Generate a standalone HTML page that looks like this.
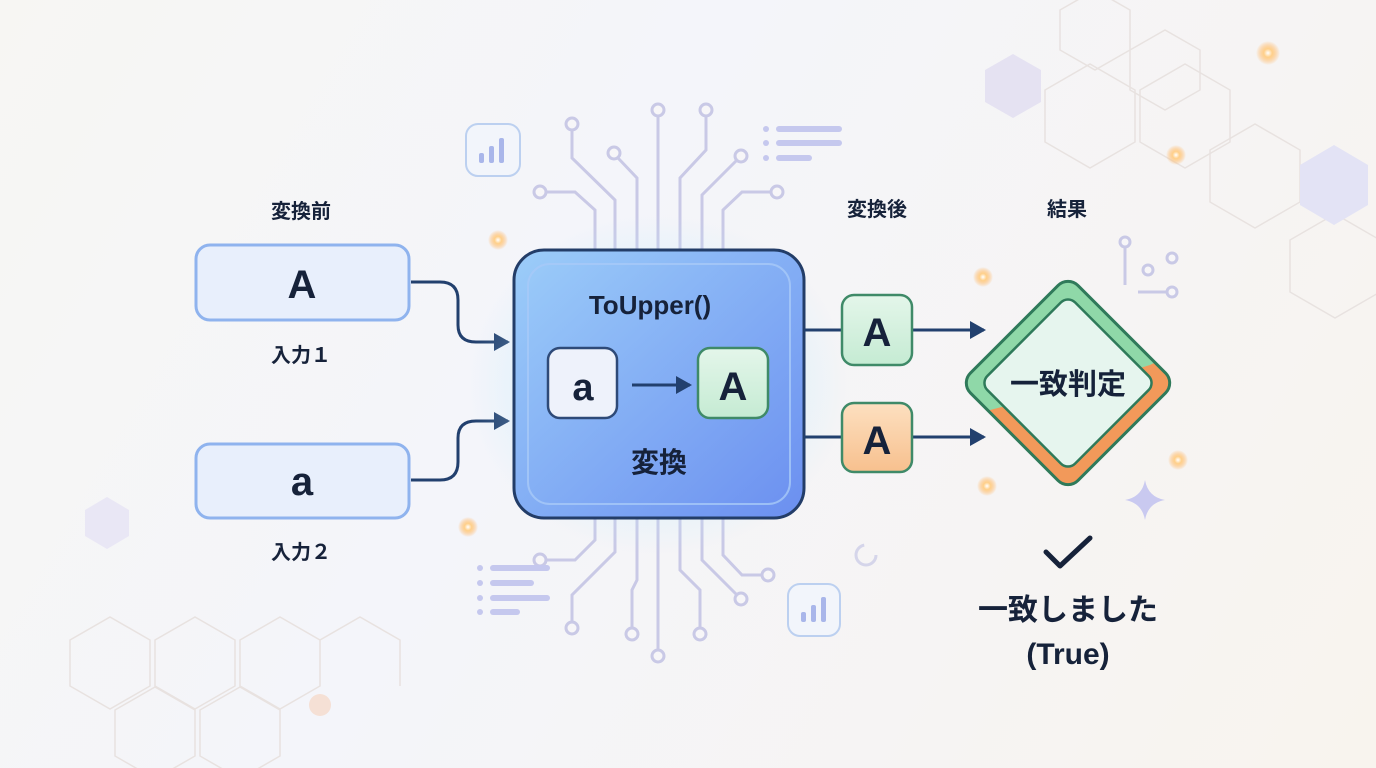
<!DOCTYPE html>
<html><head><meta charset="utf-8"><style>
html,body{margin:0;padding:0;}
body{width:1376px;height:768px;overflow:hidden;background:linear-gradient(120deg,#f7f6f3 0%,#f4f5fa 40%,#f8f4ee 100%);}
svg{display:block}
text{font-family:"Liberation Sans","Noto Sans CJK JP",sans-serif;font-weight:bold;fill:#16223a;}
</style></head><body>
<svg width="1376" height="768" viewBox="0 0 1376 768" xmlns="http://www.w3.org/2000/svg">
<defs>
<linearGradient id="mb" x1="0" y1="0" x2="1" y2="1"><stop offset="0" stop-color="#9ccdf9"/><stop offset="1" stop-color="#6b8ff0"/></linearGradient>
<linearGradient id="gr" x1="0" y1="0" x2="0" y2="1"><stop offset="0" stop-color="#e4f6ea"/><stop offset="1" stop-color="#c5ebd3"/></linearGradient>
<linearGradient id="or" x1="0" y1="0" x2="0" y2="1"><stop offset="0" stop-color="#fde0c0"/><stop offset="1" stop-color="#f7c08e"/></linearGradient>
<radialGradient id="glow"><stop offset="0" stop-color="#b5f0ff" stop-opacity=".9"/><stop offset="1" stop-color="#bfe8ff" stop-opacity="0"/></radialGradient>
<radialGradient id="dot"><stop offset="0" stop-color="#fff"/><stop offset=".35" stop-color="#ffd08a"/><stop offset="1" stop-color="#ffb060" stop-opacity="0"/></radialGradient>
<marker id="ar" markerWidth="16" markerHeight="18" refX="14" refY="9" orient="auto" markerUnits="userSpaceOnUse"><path d="M0,0 L16,9 L0,18 z" fill="#22406e"/></marker>
<clipPath id="dc"><rect x="-76" y="-76" width="152" height="152" rx="14" transform="translate(1068,383) rotate(45)"/></clipPath>
</defs>
<g fill="none" stroke="#e8e2e0" stroke-width="1.5">
<path d="M1060,10 l35,-20 l35,20 v40 l-35,20 l-35,-20z"/>
<path d="M1130,50 l35,-20 l35,20 v40 l-35,20 l-35,-20z"/>
<path d="M1045,90 l45,-26 l45,26 v52 l-45,26 l-45,-26z"/>
<path d="M1140,90 l45,-26 l45,26 v52 l-45,26 l-45,-26z"/>
<path d="M1210,150 l45,-26 l45,26 v52 l-45,26 l-45,-26z"/>
<path d="M1290,240 l45,-26 l45,26 v52 l-45,26 l-45,-26z"/>
<path d="M70,640 l40,-23 l40,23 v46 l-40,23 l-40,-23z"/>
<path d="M155,640 l40,-23 l40,23 v46 l-40,23 l-40,-23z"/>
<path d="M115,710 l40,-23 l40,23 v46 l-40,23 l-40,-23z"/>
<path d="M200,710 l40,-23 l40,23 v46 l-40,23 l-40,-23z"/>
<path d="M240,640 l40,-23 l40,23 v46 l-40,23 l-40,-23z"/>
<path d="M320,640 l40,-23 l40,23 v46"/>
</g>
<path d="M985,70 l28,-16 l28,16 v32 l-28,16 l-28,-16z" fill="#e5e2f2"/>
<path d="M1300,165 l34,-20 l34,20 v40 l-34,20 l-34,-20z" fill="#e3e3f5"/>
<path d="M85,510 l22,-13 l22,13 v26 l-22,13 l-22,-13z" fill="#e9e7f5"/>
<circle cx="320" cy="705" r="11" fill="#f5e0d5"/>
<g>
<circle cx="498" cy="240" r="10" fill="url(#dot)"/><circle cx="468" cy="527" r="10" fill="url(#dot)"/>
<circle cx="983" cy="277" r="10" fill="url(#dot)"/><circle cx="987" cy="486" r="10" fill="url(#dot)"/>
<circle cx="1178" cy="460" r="10" fill="url(#dot)"/><circle cx="1176" cy="155" r="10" fill="url(#dot)"/>
<circle cx="1268" cy="53" r="12" fill="url(#dot)"/>
</g>
<path d="M1145,480 q3,17 20,20 q-17,3 -20,20 q-3,-17 -20,-20 q17,-3 20,-20z" fill="#c9c9f0"/>
<circle cx="866" cy="555" r="10" fill="none" stroke="#d5d5ea" stroke-width="3" stroke-dasharray="45 20"/>
<g fill="none" stroke="#c9c9e6" stroke-width="3">
<path d="M546,192 H575 L595,210 V250"/><circle cx="540" cy="192" r="6" fill="#f7f6f8"/>
<path d="M572,130 V158 L615,200 V250"/><circle cx="572" cy="124" r="6" fill="#f7f6f8"/>
<path d="M618,158 L637,178 V250"/><circle cx="614" cy="153" r="6" fill="#f7f6f8"/>
<path d="M658,116 V250"/><circle cx="658" cy="110" r="6" fill="#f7f6f8"/>
<path d="M706,116 V150 L680,178 V250"/><circle cx="706" cy="110" r="6" fill="#f7f6f8"/>
<path d="M737,160 L702,195 V250"/><circle cx="741" cy="156" r="6" fill="#f7f6f8"/>
<path d="M771,192 H742 L723,210 V250"/><circle cx="777" cy="192" r="6" fill="#f7f6f8"/>
<path d="M546,560 H575 L595,540 V518"/><circle cx="540" cy="560" r="6" fill="#f7f6f8"/>
<path d="M572,622 V595 L615,552 V518"/><circle cx="572" cy="628" r="6" fill="#f7f6f8"/>
<path d="M632,628 V590 L637,580 V518"/><circle cx="632" cy="634" r="6" fill="#f7f6f8"/>
<path d="M658,650 V518"/><circle cx="658" cy="656" r="6" fill="#f7f6f8"/>
<path d="M700,628 V590 L680,570 V518"/><circle cx="700" cy="634" r="6" fill="#f7f6f8"/>
<path d="M737,595 L702,560 V518"/><circle cx="741" cy="599" r="6" fill="#f7f6f8"/>
<path d="M762,575 H742 L723,555 V518"/><circle cx="768" cy="575" r="6" fill="#f7f6f8"/>
<path d="M1125,248 V285"/><circle cx="1125" cy="242" r="5" fill="#f7f6f8"/>
<circle cx="1148" cy="270" r="5" fill="#f7f6f8"/><circle cx="1172" cy="258" r="5" fill="#f7f6f8"/>
<path d="M1138,292 H1166"/><circle cx="1172" cy="292" r="5" fill="#f7f6f8"/>
</g>
<g fill="#c5c8ee">
<circle cx="766" cy="129" r="3"/><rect x="776" y="126" width="66" height="6" rx="3"/>
<circle cx="766" cy="143" r="3"/><rect x="776" y="140" width="66" height="6" rx="3"/>
<circle cx="766" cy="158" r="3"/><rect x="776" y="155" width="36" height="6" rx="3"/>
<circle cx="480" cy="568" r="3"/><rect x="490" y="565" width="60" height="6" rx="3"/>
<circle cx="480" cy="583" r="3"/><rect x="490" y="580" width="44" height="6" rx="3"/>
<circle cx="480" cy="598" r="3"/><rect x="490" y="595" width="60" height="6" rx="3"/>
<circle cx="480" cy="612" r="3"/><rect x="490" y="609" width="30" height="6" rx="3"/>
</g>
<g>
<rect x="466" y="124" width="54" height="52" rx="12" fill="#f2f5fb" stroke="#bcd0f0" stroke-width="2"/>
<rect x="479" y="153" width="5" height="10" rx="2" fill="#a9b6ea"/><rect x="489" y="146" width="5" height="17" rx="2" fill="#a9b6ea"/><rect x="499" y="138" width="5" height="25" rx="2" fill="#a9b6ea"/>
<rect x="788" y="584" width="52" height="52" rx="12" fill="#f2f5fb" stroke="#bcd0f0" stroke-width="2"/>
<rect x="801" y="612" width="5" height="10" rx="2" fill="#a9b6ea"/><rect x="811" y="605" width="5" height="17" rx="2" fill="#a9b6ea"/><rect x="821" y="597" width="5" height="25" rx="2" fill="#a9b6ea"/>
</g>
<rect x="196" y="245" width="213" height="75" rx="14" fill="#e8effc" stroke="#8fb3ee" stroke-width="3"/>
<text x="302" y="298" font-size="40" text-anchor="middle">A</text>
<rect x="196" y="444" width="213" height="74" rx="14" fill="#e8effc" stroke="#8fb3ee" stroke-width="3"/>
<text x="302" y="495" font-size="40" text-anchor="middle">a</text>
<text x="301" y="218" font-size="20" text-anchor="middle">変換前</text>
<text x="301" y="362" font-size="20" text-anchor="middle">入力１</text>
<text x="301" y="559" font-size="20" text-anchor="middle">入力２</text>
<g fill="none" stroke="#22406e" stroke-width="3">
<path d="M411,282 H440 Q458,282 458,300 V325 Q458,342 476,342 H508" marker-end="url(#ar)"/>
<path d="M411,480 H440 Q458,480 458,462 V438 Q458,421 476,421 H508" marker-end="url(#ar)"/>
</g>
<ellipse cx="658" cy="384" rx="190" ry="170" fill="url(#glow)"/>
<rect x="514" y="250" width="290" height="268" rx="30" fill="url(#mb)" stroke="#233d68" stroke-width="3"/>
<rect x="528" y="264" width="262" height="240" rx="22" fill="none" stroke="#a8c9f7" stroke-width="2" opacity=".8"/>
<text x="650" y="314" font-size="26" text-anchor="middle">ToUpper()</text>
<rect x="548" y="348" width="69" height="70" rx="12" fill="#eef2fb" stroke="#2e4a78" stroke-width="2.5"/>
<text x="583" y="400" font-size="38" text-anchor="middle">a</text>
<line x1="632" y1="385" x2="690" y2="385" stroke="#22406e" stroke-width="3" marker-end="url(#ar)"/>
<rect x="698" y="348" width="70" height="70" rx="12" fill="url(#gr)" stroke="#3f8a68" stroke-width="2.5"/>
<text x="733" y="400" font-size="40" text-anchor="middle">A</text>
<text x="659" y="472" font-size="28" text-anchor="middle">変換</text>
<text x="877" y="216" font-size="20" text-anchor="middle">変換後</text>
<text x="1067" y="216" font-size="20" text-anchor="middle">結果</text>
<g stroke="#22406e" stroke-width="3" fill="none">
<line x1="804" y1="330" x2="842" y2="330"/><line x1="804" y1="437" x2="842" y2="437"/>
<line x1="913" y1="330" x2="984" y2="330" marker-end="url(#ar)"/>
<line x1="913" y1="437" x2="984" y2="437" marker-end="url(#ar)"/>
</g>
<rect x="842" y="295" width="70" height="70" rx="12" fill="url(#gr)" stroke="#3f8a68" stroke-width="2.5"/>
<text x="877" y="346" font-size="40" text-anchor="middle">A</text>
<rect x="842" y="403" width="70" height="69" rx="12" fill="url(#or)" stroke="#3f8a68" stroke-width="2.5"/>
<text x="877" y="454" font-size="40" text-anchor="middle">A</text>
<g clip-path="url(#dc)">
<rect x="950" y="265" width="240" height="240" fill="#f2995a"/>
<path d="M950,265 H1190 V345 L1150,365 L1060,392 L990,410 L950,430z" fill="#8fd8a8"/>
</g>
<g transform="translate(1068,383) rotate(45)">
<rect x="-76" y="-76" width="152" height="152" rx="14" fill="none" stroke="#2f7a5a" stroke-width="3"/>
<rect x="-62" y="-62" width="124" height="124" rx="10" fill="#e6f5ee" stroke="#2f7a5a" stroke-width="2.5"/>
</g>
<text x="1068" y="394" font-size="29" text-anchor="middle">一致判定</text>
<path d="M1046,552 L1060,566 L1090,538" fill="none" stroke="#16223a" stroke-width="5" stroke-linecap="round" stroke-linejoin="round"/>
<text x="1068" y="620" font-size="30" text-anchor="middle">一致しました</text>
<text x="1068" y="664" font-size="30" text-anchor="middle">(True)</text>
</svg>
</body></html>
